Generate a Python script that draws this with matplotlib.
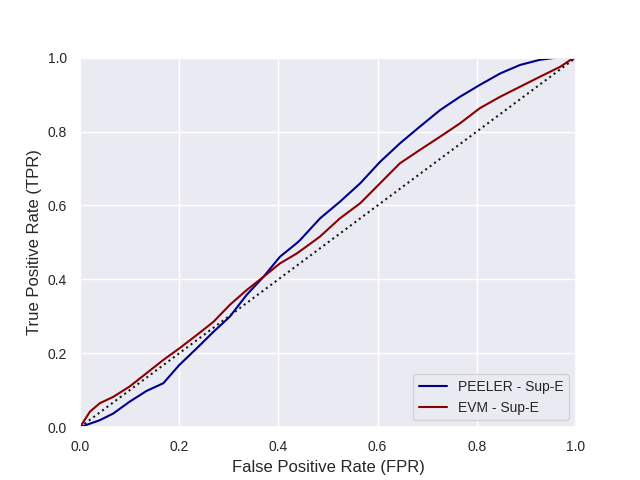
import matplotlib
matplotlib.use("Agg")
import matplotlib.pyplot as plt
import seaborn as sns

sns.set_theme()
plt.rcParams["font.family"] = ["Liberation Sans", "DejaVu Sans"]
plt.rcParams["xtick.labelsize"] = 10
plt.rcParams["ytick.labelsize"] = 10
plt.rcParams["legend.fontsize"] = 10

# ROC points
peeler_fpr = [0.0, 0.04, 0.067, 0.10, 0.134, 0.168, 0.20, 0.235, 0.269, 0.302, 0.336,
              0.37, 0.403, 0.437, 0.4435, 0.484, 0.524, 0.565, 0.605, 0.645, 0.685,
              0.726, 0.766, 0.806, 0.847, 0.887, 0.927, 0.961, 1.0]
peeler_tpr = [0.0, 0.019, 0.037, 0.069, 0.098, 0.119, 0.168, 0.213, 0.258, 0.299, 0.358,
              0.407, 0.461, 0.498, 0.506, 0.565, 0.610, 0.660, 0.718, 0.768, 0.813,
              0.858, 0.894, 0.926, 0.957, 0.980, 0.994, 1.0, 1.0]

evm_fpr = [0.0, 0.02, 0.04, 0.067, 0.10, 0.134, 0.168, 0.20, 0.235, 0.269, 0.302, 0.336,
           0.37, 0.403, 0.437, 0.47, 0.484, 0.524, 0.565, 0.605, 0.645, 0.685, 0.726,
           0.766, 0.806, 0.847, 0.887, 0.927, 0.968, 0.988, 1.0]
evm_tpr = [0.0, 0.042, 0.065, 0.082, 0.11, 0.146, 0.182, 0.213, 0.249, 0.285, 0.331, 0.371,
           0.407, 0.443, 0.47, 0.502, 0.516, 0.565, 0.606, 0.660, 0.714, 0.750, 0.786,
           0.822, 0.863, 0.894, 0.921, 0.948, 0.975, 0.993, 1.0]

plt.figure(figsize=(6.4, 4.8))
plt.plot(peeler_fpr, peeler_tpr, color="darkblue", label="PEELER - Sup-E")
plt.plot(evm_fpr, evm_tpr, color="darkred", label="EVM - Sup-E")
plt.plot([0, 1], [0, 1], "k:")
plt.xlim(0, 1)
plt.ylim(0, 1)
plt.xlabel("False Positive Rate (FPR)")
plt.ylabel("True Positive Rate (TPR)")
plt.legend(loc="lower right")
plt.savefig("out.png", dpi=100)
